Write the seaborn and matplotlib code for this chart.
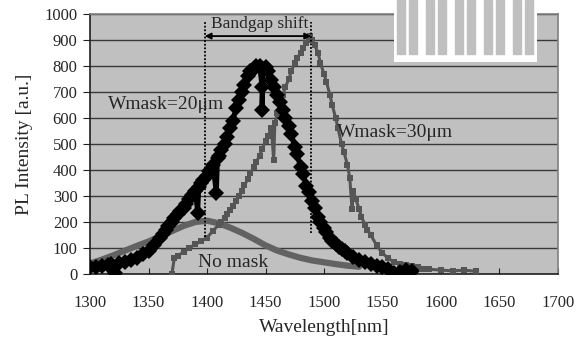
import numpy as np
import pandas as pd
import matplotlib
matplotlib.use("Agg")
import matplotlib.pyplot as plt
import seaborn as sns

# Donnees (points releves a la main)
wl_20 = [1300, 1305, 1310, 1315, 1318, 1321, 1325, 1330, 1335, 1340, 1345, 1350, 1355,
         1360, 1362, 1365, 1367, 1370, 1372, 1375, 1377, 1380, 1382, 1385, 1387, 1390,
         1392, 1393, 1395, 1397, 1400, 1402, 1405, 1408, 1409, 1410, 1412, 1415, 1417,
         1420, 1422, 1425, 1427, 1430, 1432, 1435, 1437, 1440, 1442, 1445, 1447, 1447,
         1448, 1450, 1452, 1455, 1457, 1460, 1462, 1465, 1467, 1470, 1472, 1475, 1477,
         1480, 1482, 1485, 1487, 1490, 1492, 1495, 1497, 1500, 1502, 1505, 1507, 1510,
         1513, 1515, 1518, 1520, 1525, 1530, 1535, 1540, 1545, 1550, 1555, 1560, 1565,
         1570, 1575]
pl_20 = [25, 28, 32, 35, 38, 2, 42, 47, 52, 62, 75, 90, 110,
         140, 155, 170, 185, 200, 215, 230, 242, 255, 270, 290, 305, 320,
         235, 335, 350, 362, 375, 395, 420, 311, 445, 455, 475, 500, 525,
         560, 590, 640, 670, 700, 725, 760, 780, 790, 800, 800, 720, 631,
         790, 795, 780, 745, 720, 690, 660, 630, 600, 570, 540, 490, 460,
         410, 385, 340, 315, 280, 255, 220, 200, 175, 160, 140, 128, 115,
         105, 95, 87, 80, 65, 55, 45, 38, 30, 25, 20, 5, 8,
         15, 12]

wl_30 = [1370, 1372, 1375, 1380, 1385, 1390, 1395, 1400, 1405, 1410, 1412, 1415, 1417,
         1420, 1422, 1425, 1427, 1430, 1432, 1435, 1437, 1440, 1442, 1445, 1447, 1450,
         1452, 1455, 1457, 1458, 1460, 1462, 1465, 1467, 1470, 1472, 1475, 1477, 1480,
         1482, 1485, 1487, 1488, 1490, 1492, 1495, 1497, 1500, 1502, 1505, 1507, 1510,
         1512, 1515, 1517, 1520, 1522, 1524, 1525, 1527, 1530, 1532, 1535, 1537, 1540,
         1545, 1550, 1555, 1560, 1565, 1570, 1575, 1580, 1585, 1590, 1600, 1610, 1620, 1630]
pl_30 = [0, 60, 70, 85, 100, 115, 125, 140, 165, 190, 200, 215, 230,
         245, 262, 280, 300, 320, 342, 365, 388, 410, 430, 455, 480, 510,
         530, 560, 440, 580, 620, 655, 690, 720, 750, 780, 810, 830, 850,
         870, 890, 905, 915, 900, 880, 850, 810, 770, 740, 690, 650, 600,
         560, 500, 470, 420, 370, 250, 320, 290, 250, 220, 190, 170, 150,
         110, 80, 60, 45, 40, 35, 30, 25, 20, 18, 15, 12, 15, 10]

wl_nomask = [1300, 1310, 1320, 1330, 1340, 1350, 1360, 1370, 1380, 1390, 1400, 1410,
             1420, 1430, 1440, 1450, 1460, 1470, 1480, 1490, 1500, 1510, 1520, 1530]
pl_nomask = [40, 55, 72, 90, 108, 125, 145, 165, 185, 200, 205, 195,
             178, 158, 135, 110, 90, 75, 62, 52, 45, 38, 32, 28]

x_ticks = [1300, 1350, 1400, 1450, 1500, 1550, 1600, 1650, 1700]
y_ticks = [0, 100, 200, 300, 400, 500, 600, 700, 800, 900, 1000]

shift_start = 1398
shift_end = 1489

sns.set_style("white")
plt.rcParams['font.family'] = ['Liberation Serif', 'DejaVu Serif']
plt.rcParams['font.size'] = 12

fig = plt.figure(figsize=(5.83, 3.47), dpi=100)
ax = fig.add_axes([0.1544, 0.2104, 0.8027, 0.7493])
ax.set_facecolor("#c0c0c0")

df20 = pd.DataFrame({"wl": wl_20, "pl": pl_20})
df30 = pd.DataFrame({"wl": wl_30, "pl": pl_30})
dfno = pd.DataFrame({"wl": wl_nomask, "pl": pl_nomask})

# No mask : trait gris epais
sns.lineplot(data=dfno, x="wl", y="pl", ax=ax, color="#626262", lw=4.5, sort=False,
             estimator=None, marker="s", markersize=3, markeredgewidth=0, zorder=3)
# Wmask=30 : gris avec petits carres
sns.lineplot(data=df30, x="wl", y="pl", ax=ax, color="#555555", lw=2.2, sort=False,
             estimator=None, marker="s", markersize=4, markeredgewidth=0, zorder=4)
# Wmask=20 : noir avec gros losanges
sns.lineplot(data=df20, x="wl", y="pl", ax=ax, color="black", lw=3.5, sort=False,
             estimator=None, marker="D", markersize=8, markeredgewidth=0, zorder=5)

ax.set_xlim(1300, 1700)
ax.set_ylim(0, 1000)
ax.set_xticks(x_ticks)
ax.set_yticks(y_ticks)
ax.yaxis.grid(True, color="#3a3a3a", lw=1)
ax.set_axisbelow(True)
ax.tick_params(axis="x", direction="in", length=4, pad=15, labelsize=12, color="#202020", bottom=True)
ax.tick_params(axis="y", direction="out", length=5, pad=4, labelsize=12, color="#202020", left=True)

for s in ["top", "right"]:
    ax.spines[s].set_color("#808080")
    ax.spines[s].set_linewidth(1.2)
for s in ["left", "bottom"]:
    ax.spines[s].set_color("#202020")
    ax.spines[s].set_linewidth(1.2)

ax.set_xlabel("Wavelength[nm]", fontsize=14, labelpad=6)
ax.set_ylabel("PL Intensity [a.u.]", fontsize=14, labelpad=8)

# Annotations
ax.vlines(shift_start, 142, 970, colors="black", linestyles=(0, (1, 1)), lw=1.3, zorder=6)
ax.vlines(shift_end, 157, 970, colors="black", linestyles=(0, (1, 1)), lw=1.3, zorder=6)
ax.annotate("", xy=(shift_start, 915), xytext=(shift_end, 915),
            arrowprops=dict(arrowstyle="<|-|>", color="black", lw=1.3,
                            shrinkA=0, shrinkB=0, mutation_scale=9), zorder=7)
ax.text(1403, 962, "Bandgap shift", fontsize=12.5, va="center", ha="left", zorder=7)
ax.text(1315, 650, "Wmask=20μm", fontsize=14, va="center", ha="left", zorder=7)
ax.text(1511, 546, "Wmask=30μm", fontsize=14, va="center", ha="left", zorder=7)
ax.text(1392, 46, "No mask", fontsize=14, va="center", ha="left", zorder=7)

# Petit schema du masque en haut a droite
ins = fig.add_axes([394 / 583, 1 - 62 / 347, 143 / 583, 62 / 347])
ins.set_xlim(0, 143)
ins.set_ylim(62, 0)
ins.axis("off")
ins.add_patch(plt.Rectangle((0, 0), 143, 62, color="white"))
for k in range(5):
    for j in range(2):
        ins.add_patch(plt.Rectangle((3 + 29 * k + 12 * j, 0), 8, 54, color="#c0c0c0"))

fig.savefig("out.png", dpi=100)
